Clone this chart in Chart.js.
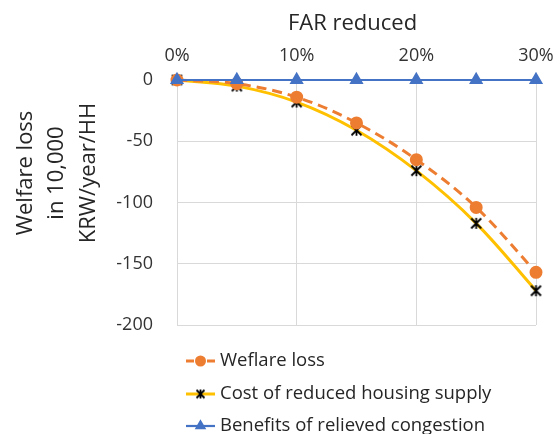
<!DOCTYPE html>
<html>
<head>
<meta charset="utf-8">
<script src="https://cdn.jsdelivr.net/npm/chart.js@4/dist/chart.umd.min.js"></script>
<style>
  html, body { margin: 0; padding: 0; background: #ffffff; }
  #wrap { width: 560px; height: 434px; position: relative; }
</style>
</head>
<body>
<div id="wrap"><canvas id="c" width="560" height="434"></canvas></div>
<script>
// FAR reduction steps (%)
const farReduced = [0, 5, 10, 15, 20, 25, 30];
// Welfare effects in 10,000 KRW per year per household
const welfareLoss = [0, -3, -14, -35, -65, -104, -157];
const housingSupplyCost = [0, -5, -18, -41, -74, -117, -172];
const congestionBenefits = [0, 0, 0, 0, 0, 0, 0];

const seriesNames = ['Weflare loss', 'Cost of reduced housing supply', 'Benefits of relieved congestion'];
const xTitle = 'FAR reduced';
const yTitleLines = ['Welfare loss', 'in 10,000', 'KRW/year/HH'];

const FONT = "'Open Sans', 'Noto Sans', sans-serif";
const ORANGE = '#ED7D31';
const GOLD = '#FFC000';
const BLUE = '#4472C4';

// Asterisk marker: an X crossed by a vertical bar
function makeAsterisk(size) {
  const cv = document.createElement('canvas');
  cv.width = size; cv.height = size;
  const g = cv.getContext('2d');
  g.strokeStyle = '#000000';
  g.lineWidth = 1.8;
  const m = 1.5, s = size - 1.5;
  g.beginPath();
  g.moveTo(m, m); g.lineTo(s, s);
  g.moveTo(s, m); g.lineTo(m, s);
  g.moveTo(size / 2, m - 0.5); g.lineTo(size / 2, s + 0.5);
  g.stroke();
  return cv;
}
const asterisk = makeAsterisk(13);
const asteriskSmall = makeAsterisk(11);

const toPoints = arr => arr.map((v, i) => ({ x: farReduced[i], y: v }));

// Axis titles and the stacked legend beneath the plot
const decorations = {
  id: 'decorations',
  afterDraw(chart) {
    const ctx = chart.ctx;
    const area = chart.chartArea;
    ctx.save();
    ctx.fillStyle = '#262626';
    ctx.textAlign = 'center';
    ctx.textBaseline = 'middle';
    ctx.font = '22px ' + FONT;
    ctx.fillText(xTitle, (area.left + area.right) / 2 - 4, 24);

    // rotated y title, three lines
    ctx.save();
    ctx.translate(57, 173);
    ctx.rotate(-Math.PI / 2);
    ctx.font = '22px ' + FONT;
    yTitleLines.forEach((t, i) => ctx.fillText(t, 0, (i - 1) * 31.5));
    ctx.restore();

    // legend
    const rows = [361, 394, 426];
    const x0 = 186, x1 = 215, tx = 220;
    const legendMarkers = [
      { style: 'circle', r: 4 },
      { style: asteriskSmall, r: 5 },
      { style: 'triangle', r: 4.5 }
    ];
    ctx.font = '18.5px ' + FONT;
    ctx.textAlign = 'left';
    chart.data.datasets.forEach((ds, i) => {
      const y = rows[i];
      ctx.save();
      ctx.strokeStyle = ds.borderColor;
      ctx.lineWidth = ds.borderWidth;
      ctx.beginPath();
      if (ds.borderDash) {
        ctx.moveTo(x0, y); ctx.lineTo(x0 + 8, y);
        ctx.moveTo(x1 - 8, y); ctx.lineTo(x1, y);
      } else {
        ctx.moveTo(x0, y); ctx.lineTo(x1, y);
      }
      ctx.stroke();
      ctx.fillStyle = ds.borderColor;
      ctx.strokeStyle = ds.borderColor;
      Chart.helpers.drawPoint(ctx, {
        pointStyle: legendMarkers[i].style,
        radius: legendMarkers[i].r,
        borderWidth: 1,
        rotation: 0
      }, (x0 + x1) / 2, y);
      ctx.restore();
      ctx.fillStyle = '#262626';
      ctx.fillText(seriesNames[i], tx, y);
    });
    ctx.restore();
  }
};

Chart.defaults.font.family = FONT;

const chart = new Chart(document.getElementById('c'), {
  type: 'line',
  data: {
    datasets: [
      {
        label: seriesNames[0],
        data: toPoints(welfareLoss),
        borderColor: ORANGE,
        backgroundColor: ORANGE,
        borderWidth: 3,
        borderDash: [10, 6],
        pointStyle: 'circle',
        pointRadius: 5,
        pointBackgroundColor: ORANGE,
        pointBorderColor: ORANGE,
        tension: 0.35,
        clip: false,
        order: 2
      },
      {
        label: seriesNames[1],
        data: toPoints(housingSupplyCost),
        borderColor: GOLD,
        backgroundColor: GOLD,
        borderWidth: 3,
        pointStyle: asterisk,
        pointRadius: 6,
        tension: 0.35,
        clip: false,
        order: 3
      },
      {
        label: seriesNames[2],
        data: toPoints(congestionBenefits),
        borderColor: BLUE,
        backgroundColor: BLUE,
        borderWidth: 2.2,
        pointStyle: 'triangle',
        pointRadius: 6,
        pointBackgroundColor: BLUE,
        pointBorderColor: BLUE,
        tension: 0,
        clip: false,
        order: 1
      }
    ]
  },
  options: {
    responsive: false,
    animation: false,
    layout: { padding: { left: 0, right: 24, top: 0, bottom: 109 } },
    plugins: {
      legend: { display: false },
      tooltip: { enabled: false }
    },
    scales: {
      x: {
        type: 'linear',
        position: 'top',
        min: 0,
        max: 30,
        afterFit(scale) {
          scale.height = 80;
          scale.paddingLeft = 0;
          scale.paddingRight = 0;
        },
        grid: { color: '#d9d9d9', lineWidth: 1, drawTicks: false },
        border: { display: false },
        ticks: {
          stepSize: 10,
          padding: 13,
          color: '#333333',
          font: { size: 18, family: FONT },
          callback: v => v + '%'
        }
      },
      y: {
        min: -200,
        max: 0,
        afterFit(scale) {
          scale.width = 177;
          scale.paddingTop = 0;
          scale.paddingBottom = 0;
        },
        grid: { color: '#d9d9d9', lineWidth: 1, drawTicks: false },
        border: { display: false },
        ticks: {
          stepSize: 50,
          padding: 24,
          color: '#333333',
          font: { size: 18, family: FONT }
        }
      }
    }
  },
  plugins: [decorations]
});
</script>
</body>
</html>
